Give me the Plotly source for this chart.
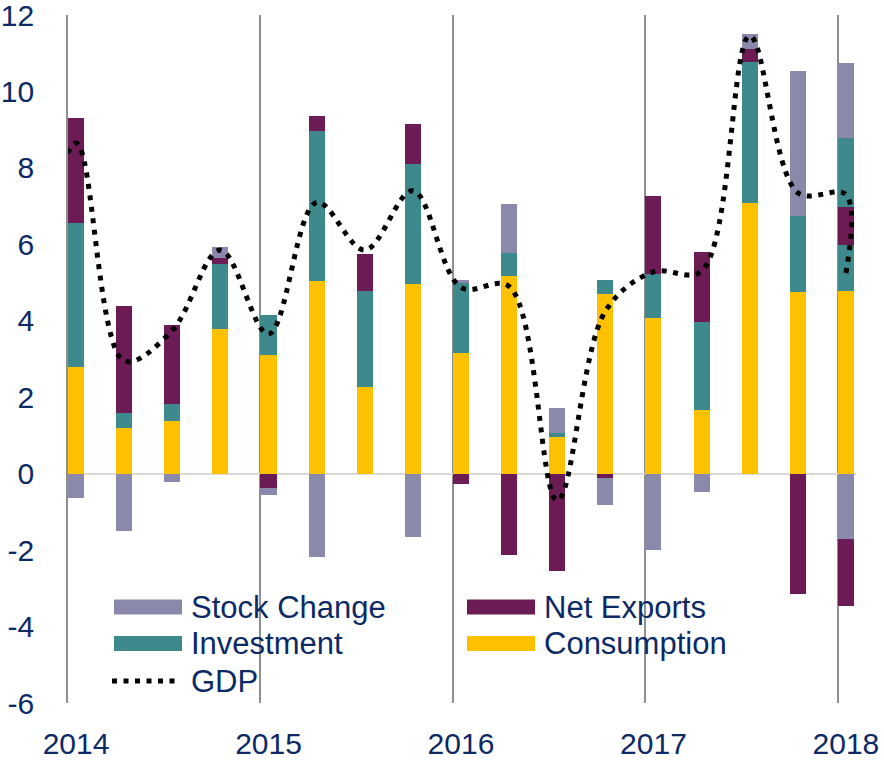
import plotly.graph_objects as go

# ---------------- data ----------------
quarters = ["2014Q1", "2014Q2", "2014Q3", "2014Q4",
            "2015Q1", "2015Q2", "2015Q3", "2015Q4",
            "2016Q1", "2016Q2", "2016Q3", "2016Q4",
            "2017Q1", "2017Q2", "2017Q3", "2017Q4",
            "2018Q1"]
consumption  = [2.80, 1.19, 1.37, 3.79, 3.11, 5.05, 2.26, 4.95, 3.17, 5.17, 0.96, 4.70, 4.08, 1.67, 7.09, 4.75, 4.79]
investment   = [3.75, 0.39, 0.44, 1.69, 1.04, 3.91, 2.52, 3.16, 1.81, 0.60, 0.10, 0.38, 1.15, 2.31, 3.68, 1.98, 1.19]
net_exports  = [2.76, 2.81, 2.07, 0.17, -0.38, 0.39, 0.98, 1.05, -0.26, -2.12, -2.55, -0.12, 2.04, 1.82, 0.33, -3.15, 0.99]
stock_change = [-0.64, -1.50, -0.23, 0.28, -0.18, -2.18, 0.00, -1.66, 0.08, 1.28, 0.66, -0.70, -2.00, -0.47, 0.40, 3.81, -1.72]

# second (overlapping) 2018Q1 estimate drawn behind the first one
alt_quarters     = ["2018Q1"]
alt_consumption  = [4.79]
alt_investment   = [4.00]
alt_net_exports  = [-3.47]
alt_stock_change = [1.96]

# GDP line (incl. the 2013Q4 point that enters from the left edge, then both 2018Q1 estimates)
gdp_quarters = ["2013Q4"] + quarters + ["2018Q1"]
gdp          = [4.0, 8.65, 2.95, 3.75, 5.85, 3.65, 7.10, 5.85, 7.40, 4.87, 4.90, -0.70,
                4.25, 5.28, 5.30, 11.45, 7.35, 7.30, 5.25]

year_ticks = [2014, 2015, 2016, 2017, 2018]
year_labels = ["2014", "2015", "2016", "2017", "2018"]
y_ticks = [-6, -4, -2, 0, 2, 4, 6, 8, 10, 12]
y_labels = ["-6", "-4", "-2", "0", "2", "4", "6", "8", "10", "12"]

# ---------------- styling ----------------
C_STOCK = "#8a89ab"
C_NET = "#6d1b55"
C_INV = "#3d898b"
C_CONS = "#fdc100"
C_TEXT = "#0b2a66"
C_GRID = "#8f8f8f"
FONT = "Arial, Liberation Sans, sans-serif"
BAR_W = 1 / 12


def qpos(q):
    y, n = int(q[:4]), int(q[-1])
    return y + (n - 1) / 4 + 1 / 24


x_main = [qpos(q) for q in quarters]
x_alt = [qpos(q) for q in alt_quarters]
gdp_x = [qpos(q) for q in gdp_quarters]

fig = go.Figure()

# behind: alternative 2018Q1 stack (main x axis)
for vals, col, name in [(alt_consumption, C_CONS, "Consumption"),
                        (alt_investment, C_INV, "Investment"),
                        (alt_net_exports, C_NET, "Net Exports"),
                        (alt_stock_change, C_STOCK, "Stock Change")]:
    fig.add_trace(go.Bar(x=x_alt, y=vals, width=BAR_W, marker=dict(color=col, line=dict(width=0)),
                         name=name, showlegend=False, xaxis="x", yaxis="y"))

# front: main stacks (overlaying axis x2)
for vals, col, name in [(consumption, C_CONS, "Consumption"),
                        (investment, C_INV, "Investment"),
                        (net_exports, C_NET, "Net Exports"),
                        (stock_change, C_STOCK, "Stock Change")]:
    fig.add_trace(go.Bar(x=x_main, y=vals, width=BAR_W, marker=dict(color=col, line=dict(width=0)),
                         name=name, showlegend=False, xaxis="x2", yaxis="y"))

fig.add_trace(go.Scatter(x=gdp_x, y=gdp, mode="lines", name="GDP",
                         line=dict(color="black", width=5, dash="5px,6.5px", shape="spline", smoothing=1),
                         showlegend=False, xaxis="x2", yaxis="y"))

XR = [2014, 2018.094]

fig.update_layout(
    width=884, height=760,
    margin=dict(l=68, r=28, t=15, b=57),
    paper_bgcolor="white", plot_bgcolor="white",
    barmode="relative", bargap=0,
    font=dict(family=FONT, color=C_TEXT, size=30),
    showlegend=False,
    xaxis=dict(range=XR, tickmode="array", tickvals=[y + 1 / 24 for y in year_ticks], ticktext=year_labels,
               showgrid=False, zeroline=False, showline=False, ticks="", automargin=False,
               ticklabeloverflow="allow",
               tickfont=dict(size=30, color=C_TEXT), ticklabelstandoff=20,
               minor=dict(tickmode="array", tickvals=year_ticks, showgrid=True,
                          gridcolor=C_GRID, gridwidth=1.6, ticks="")),
    xaxis2=dict(range=XR, overlaying="x", visible=False),
    yaxis=dict(range=[-6, 12.0001], tickmode="array", tickvals=y_ticks, ticktext=y_labels, showgrid=False,
               zeroline=True, zerolinecolor="#d9d9d9", zerolinewidth=2, automargin=False,
               ticklabeloverflow="allow",
               showline=True, linecolor=C_GRID, linewidth=1.6,
               ticks="", tickfont=dict(size=30, color=C_TEXT), ticklabelstandoff=26),
)

# ---------------- legend (drawn manually to get the wide swatches) ----------------
X0, X1, Y0, Y1 = 68, 856, 15, 703


def px(xp):
    return (xp - X0) / (X1 - X0)


def py(yp):
    return (Y1 - yp) / (Y1 - Y0)


legend_items = [
    ("Stock Change", C_STOCK, 114, 607, "bar"),
    ("Net Exports", C_NET, 467, 607, "bar"),
    ("Investment", C_INV, 114, 643.5, "bar"),
    ("Consumption", C_CONS, 467, 643.5, "bar"),
    ("GDP", "black", 114, 681, "line"),
]
for label, col, lx, ly, kind in legend_items:
    if kind == "bar":
        fig.add_shape(type="rect", xref="paper", yref="paper",
                      x0=px(lx), x1=px(lx + 68), y0=py(ly - 7.5), y1=py(ly + 7.5),
                      fillcolor=col, line=dict(width=0), layer="above")
    else:
        fig.add_shape(type="line", xref="paper", yref="paper",
                      x0=px(lx - 2), x1=px(lx + 66), y0=py(ly), y1=py(ly),
                      line=dict(color=col, width=5, dash="5px,6.5px"), layer="above")
    fig.add_annotation(xref="paper", yref="paper", x=px(lx + 75), y=py(ly),
                       text=label, showarrow=False, xanchor="left", yanchor="middle",
                       font=dict(size=31, color=C_TEXT, family=FONT))

fig.write_html("out.html", config={"displayModeBar": False},
               post_script="document.body.style.margin='0px';")
